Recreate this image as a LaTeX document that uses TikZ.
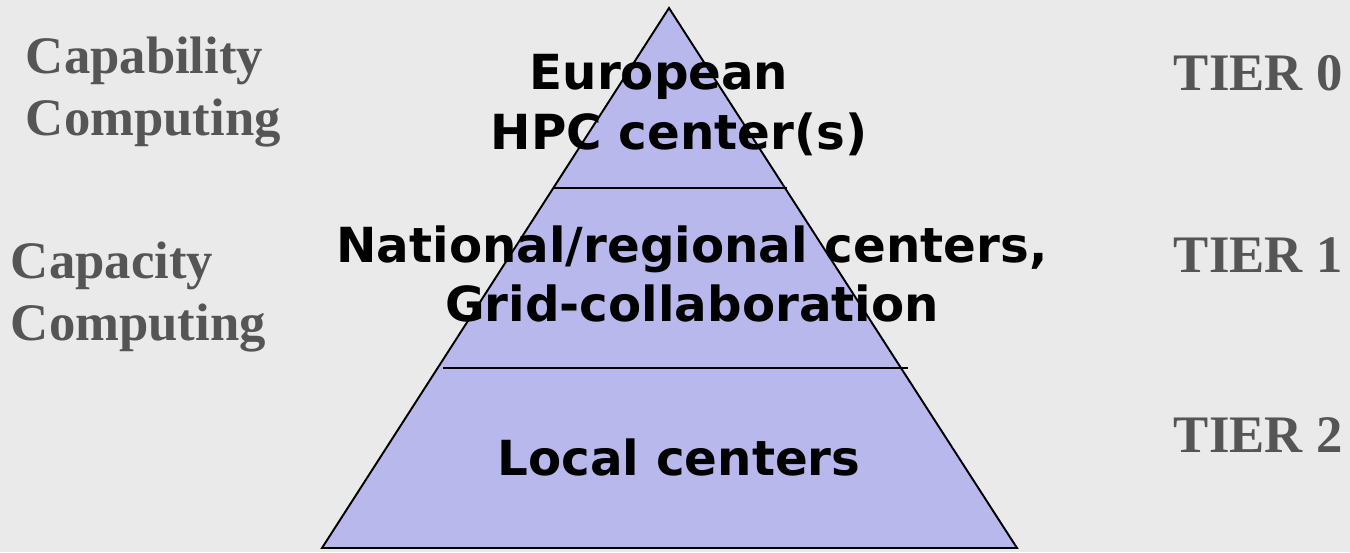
\documentclass[tikz,border=0pt]{standalone}
\usepackage{fontspec}
\setmainfont{Liberation Serif}
\newfontfamily\pyrfont{DejaVu Sans}
\definecolor{bgback}{RGB}{234,234,234}
\definecolor{pyrfill}{RGB}{184,184,236}
\definecolor{labelgray}{RGB}{85,85,85}
\begin{document}
\begin{tikzpicture}[x=0.02cm, y=-0.02cm, line width=1.1pt,
  side label/.style={font=\fontsize{30}{35}\selectfont\bfseries, text=labelgray, align=left, inner sep=0pt},
  tier label/.style={font=\fontsize{30}{35}\selectfont\bfseries, text=labelgray, inner sep=0pt},
  level label/.style={font=\pyrfont\fontsize{27.5}{34}\selectfont\bfseries, align=center, inner sep=0pt}]
\fill[bgback] (0,0) rectangle (1350,552);
\useasboundingbox (0,0) rectangle (1350,552);
% pyramid
\coordinate (top) at (669,8);
\coordinate (bl) at (322,548);
\coordinate (br) at (1017,548);
\draw[fill=pyrfill] (top) -- (br) -- (bl) -- cycle;
\coordinate (l1a) at (553,188);
\coordinate (l1b) at (787,188);
\coordinate (l2a) at (443,368);
\coordinate (l2b) at (908,368);
\draw (l1a) -- (l1b);
\draw (l2a) -- (l2b);
\begin{scope}
\node[level label] (t0) at (679,105) {European\hspace*{0.8cm}\\HPC center(s)};
\node[level label] (t1) at (692,274) {National/regional centers,\\Grid-collaboration};
\node[level label] (t2) at (679,457) {Local centers};
\end{scope}
\begin{scope}
\node[side label, anchor=west] (capab) at (25,92) {Capability\\Computing};
\node[side label, anchor=west] (capac) at (10,297) {Capacity\\Computing};
%\node[side label] (x) at (,) {};
\end{scope}
\begin{scope}
\node[tier label, anchor=base west] (tier0) at (1173,90) {TIER 0};
\node[tier label, anchor=base west] (tier1) at (1173,272) {TIER 1};
\node[tier label, anchor=base west] (tier2) at (1173,452) {TIER 2};
\end{scope}
\end{tikzpicture}
\end{document}
